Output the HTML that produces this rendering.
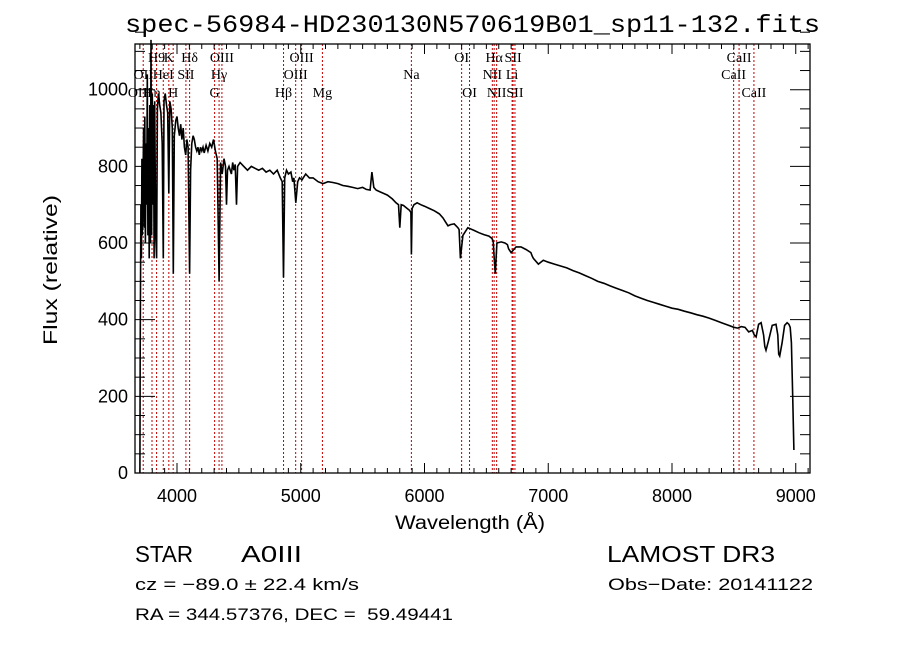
<!DOCTYPE html>
<html><head><meta charset="utf-8"><style>
html,body{margin:0;padding:0;background:#fff;}
svg{display:block;}
.m{font-family:"Liberation Mono",monospace;}
.s{font-family:"Liberation Serif",serif;}
.n{font-family:"Liberation Sans",sans-serif;}
</style></head><body>
<svg id="chart" width="900" height="649" viewBox="0 0 900 649">
<text x="125" y="32" class="m" font-size="25" textLength="695" lengthAdjust="spacingAndGlyphs">spec-56984-HD230130N570619B01_sp11-132.fits</text>
<g id="lines"></g>
<g id="ticks"></g>
<g id="spec"></g>
<rect x="135" y="44" width="675" height="429" fill="none" stroke="#000" stroke-width="1.3"/>
<text x="470" y="529" text-anchor="middle" class="n" font-size="19" textLength="150" lengthAdjust="spacingAndGlyphs">Wavelength (Å)</text>
<text transform="translate(57,270) rotate(-90)" text-anchor="middle" class="n" font-size="19" textLength="150" lengthAdjust="spacingAndGlyphs">Flux (relative)</text>
<text x="135" y="562" class="n" font-size="23" textLength="58" lengthAdjust="spacingAndGlyphs">STAR</text>
<text x="241" y="562" class="n" font-size="23" textLength="61" lengthAdjust="spacingAndGlyphs">A0III</text>
<text x="607" y="562" class="n" font-size="23" textLength="168" lengthAdjust="spacingAndGlyphs">LAMOST DR3</text>
<text x="135" y="590" class="n" font-size="17" textLength="224" lengthAdjust="spacingAndGlyphs">cz = −89.0 ± 22.4 km/s</text>
<text x="608" y="590" class="n" font-size="17" textLength="205" lengthAdjust="spacingAndGlyphs">Obs−Date: 20141122</text>
<text x="135" y="620" class="n" font-size="17" textLength="318" lengthAdjust="spacingAndGlyphs" xml:space="preserve">RA = 344.57376, DEC =  59.49441</text>
</svg>
<script>
const wavelengths=[3700,3703,3708,3712,3716,3720,3725,3730,3735,3740,3745,3750,3755,3760,3765,3770,3775,3780,3785,3790,3795,3800,3805,3810,3815,3820,3828,3835,3842,3850,3860,3870,3880,3889,3895,3905,3915,3925,3934,3942,3952,3962,3970,3978,3990,4000,4010,4020,4030,4040,4050,4060,4070,4080,4090,4102,4110,4120,4130,4140,4150,4160,4170,4180,4190,4200,4210,4220,4235,4250,4265,4280,4295,4310,4325,4340,4352,4365,4380,4392,4400,4408,4420,4440,4450,4460,4470,4481,4490,4510,4540,4570,4600,4630,4660,4690,4720,4750,4780,4810,4835,4850,4861,4870,4885,4900,4920,4935,4945,4960,4975,4990,5010,5040,5070,5100,5140,5180,5220,5260,5300,5340,5380,5420,5460,5500,5530,5560,5575,5590,5610,5650,5700,5740,5770,5790,5800,5812,5830,5860,5880,5890,5894,5900,5915,5940,5970,6000,6040,6080,6120,6150,6170,6190,6210,6240,6270,6280,6290,6310,6350,6400,6440,6480,6520,6545,6555,6563,6572,6585,6620,6650,6670,6680,6700,6740,6780,6820,6860,6870,6880,6920,6960,7000,7050,7100,7150,7200,7250,7300,7350,7400,7450,7500,7550,7600,7650,7700,7750,7800,7850,7900,7950,8000,8050,8100,8150,8200,8250,8300,8350,8400,8450,8500,8530,8560,8590,8620,8650,8665,8680,8700,8720,8740,8750,8760,8780,8810,8840,8855,8862,8870,8890,8910,8930,8945,8955,8965,8975,8985];
const fluxes=[0,320,700,560,820,620,760,900,640,930,600,860,700,1040,620,900,560,960,600,1130,620,990,700,960,560,970,620,560,950,990,960,940,860,560,970,990,960,940,730,970,950,900,520,880,920,930,900,880,910,870,900,850,830,870,850,520,790,860,880,870,850,840,850,830,850,840,850,835,855,840,860,850,870,840,820,500,810,780,820,800,700,790,800,780,810,790,805,700,800,810,800,790,800,795,790,795,785,790,780,790,770,760,510,770,790,780,785,760,770,705,760,770,765,780,770,770,760,755,760,758,755,750,748,745,742,745,740,738,785,745,738,732,725,715,705,700,640,700,698,690,685,680,570,690,700,705,700,696,690,684,676,665,655,645,648,650,640,635,560,620,640,633,627,622,618,612,605,560,520,600,603,600,596,585,575,590,590,583,575,566,560,545,555,550,545,540,535,528,522,515,508,500,495,488,482,476,470,462,456,450,445,440,435,430,427,422,418,413,409,404,398,392,386,380,378,382,380,368,372,360,355,388,392,360,330,320,345,385,388,360,310,305,340,385,392,388,380,340,200,60,10,0];
const lineWaves=[3727,3798,3835,3889,3934,3969,4072,4102,4304,4340,4363,4861,4959,5007,5175,5894,6300,6364,6548,6563,6583,6708,6716,6731,8498,8542,8662];
const labelNames=["H9","K","Hδ","OIII","OIII","OI","Hα","SII","CaII","OII","HeI","SII","Hγ","OIII","Na","NII","Li","CaII","OIII","Hη","H","G","Hβ","Mg","OI","NII","SII","CaII"];
const labelWaves=[3835,3934,4102,4363,5007,6300,6563,6716,8542,3727,3889,4072,4340,4959,5894,6548,6708,8498,3700,3798,3969,4304,4861,5175,6364,6583,6731,8662];
const labelRows=[0,0,0,0,0,0,0,0,0,1,1,1,1,1,1,1,1,1,2,2,2,2,2,2,2,2,2,2];
const xTicks=[4000,5000,6000,7000,8000,9000];
const yTicks=[0,200,400,600,800,1000];

const NS="http://www.w3.org/2000/svg";
const X0=135,X1=810,Y0=44,Y1=473;
function xs(w){return 177+(w-4000)*0.12375;}
function ys(f){return 473-f*0.3833;}
function mk(tag,attrs,parent){const e=document.createElementNS(NS,tag);for(const k in attrs)e.setAttribute(k,attrs[k]);parent.appendChild(e);return e;}

const lg=document.getElementById('lines');
lineWaves.forEach(w=>{
  const l=mk('line',{x1:xs(w),x2:xs(w),y1:Y0,y2:Y1,stroke:'#c00000','stroke-width':1,'stroke-dasharray':'2,2'},lg);
  
  
});
const rowY=[62,79,97];
labelNames.forEach((n,i)=>{
  const t=mk('text',{x:xs(labelWaves[i]),y:rowY[labelRows[i]],'text-anchor':'middle','font-size':14,'font-family':'"Liberation Serif",serif'},lg);
  t.textContent=n;
  
  
});

const tg=document.getElementById('ticks');
for(let w=3700;w<=9100;w+=100){
  const major=w%1000===0;const L=major?10:5;
  mk('line',{x1:xs(w),x2:xs(w),y1:Y1,y2:Y1-L,stroke:'#000','stroke-width':1},tg);
  mk('line',{x1:xs(w),x2:xs(w),y1:Y0,y2:Y0+L,stroke:'#000','stroke-width':1},tg);
}
for(let f=0;f<=1150;f+=50){
  const major=f%200===0;const L=major?20:10;
  mk('line',{x1:X0,x2:X0+L,y1:ys(f),y2:ys(f),stroke:'#000','stroke-width':1},tg);
  mk('line',{x1:X1,x2:X1-L,y1:ys(f),y2:ys(f),stroke:'#000','stroke-width':1},tg);
}
xTicks.forEach(w=>{
  const t=mk('text',{x:xs(w),y:502,'text-anchor':'middle','font-size':18,'font-family':'"Liberation Sans",sans-serif'},tg);
  t.textContent=w;
  
  
});
yTicks.forEach(f=>{
  const t=mk('text',{x:128,y:ys(f)+6,'text-anchor':'end','font-size':18,'font-family':'"Liberation Sans",sans-serif'},tg);
  t.textContent=f;
  
  
});

const sg=document.getElementById('spec');
let d='';
wavelengths.forEach((w,i)=>{d+=(i?'L':'M')+xs(w).toFixed(1)+' '+ys(Math.min(fluxes[i],1160)).toFixed(1)+' ';});
const p=mk('path',{d:d,fill:'none',stroke:'#000','stroke-width':1.6,'stroke-linejoin':'miter'},sg);


</script>
</body></html>
